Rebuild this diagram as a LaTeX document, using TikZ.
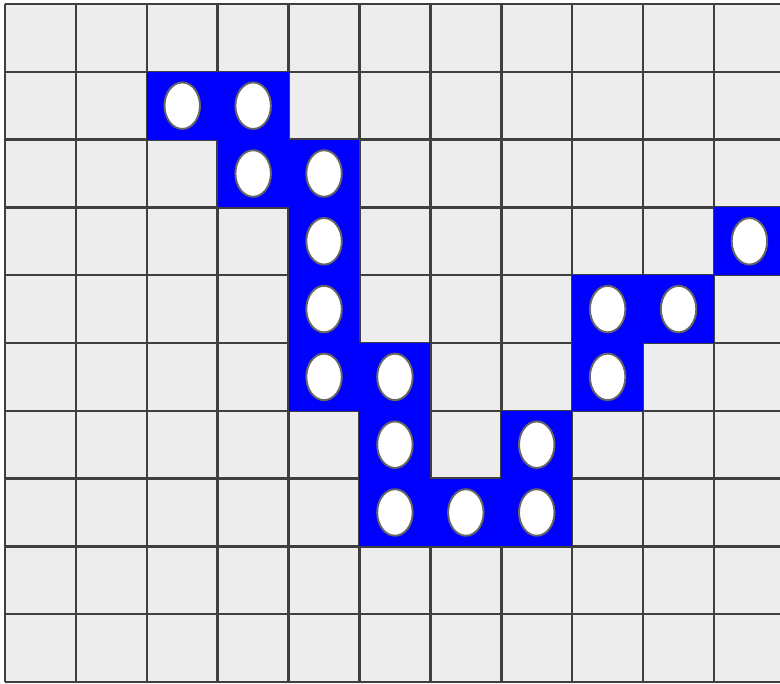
\documentclass[tikz,border=0pt]{standalone}
\usetikzlibrary{shapes.geometric}
\definecolor{cellgray}{HTML}{EDEDED}
\definecolor{linegray}{HTML}{3F3F3F}
\tikzset{
  gridline/.style={draw=linegray, line width=1.4pt},
  pathcell/.style={fill=blue, draw=none},
  hole/.style={ellipse, draw=gray!80!black, line width=1.1pt, fill=white,
    minimum width=0.71cm, minimum height=0.93cm, inner sep=0pt}
}
\begin{document}
\begin{tikzpicture}[x={(1.418cm,0)}, y={(0,-1.356cm)}]
    \useasboundingbox (-0.0705,-0.059) rectangle (10.931,10.015);
    \clip (-0.0705,-0.059) rectangle (10.931,10.015);

    % board
    \fill[cellgray] (0,0) rectangle (11,10);
    \foreach \i in {0,...,11}
        \draw[gridline] (\i,0) -- (\i,10);
    \foreach \j in {0,...,10}
        \draw[gridline] (0,\j) -- (11,\j);

    % path cells with holes
    \foreach \c/\r in {2/1,3/1,3/2,4/2,4/3,10/3,4/4,8/4,9/4,4/5,5/5,8/5,5/6,7/6,5/7,6/7,7/7} {
        \fill[pathcell] (\c,\r) rectangle ++(1,1);
        \node[hole] (h-\c-\r) at (\c+0.5,\r+0.5) {};
    }
\end{tikzpicture}
\end{document}
